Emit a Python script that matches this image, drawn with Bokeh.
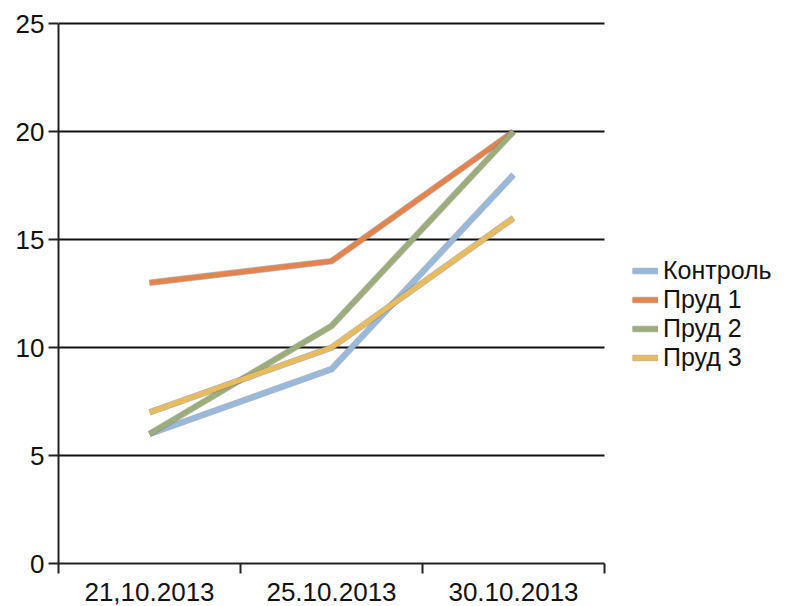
from bokeh.plotting import figure
from bokeh.models import Range1d, FixedTicker, Legend, LegendItem
from bokeh.embed import file_html
from bokeh.resources import INLINE

# Measurement dates and series values
dates = ["21,10.2013", "25.10.2013", "30.10.2013"]
kontrol = [6, 9, 18]
prud1 = [13, 14, 20]
prud2 = [6, 11, 20]
prud3 = [7, 10, 16]
y_ticks = [0, 5, 10, 15, 20, 25]

series_names = ["Контроль", "Пруд 1", "Пруд 2", "Пруд 3"]
series_values = [kontrol, prud1, prud2, prud3]
series_colors = ["#98B9DC", "#E4834C", "#9DAD7A", "#E8BC5C"]

FONT = "Liberation Sans"

# category centres sit at half steps, category boundaries at whole steps
n = len(dates)
xs = [i + 0.5 for i in range(n)]
y_max = y_ticks[-1]

# the frame runs on to the right edge so the legend can sit inside it;
# axis and grid stop at the last category boundary
left, right_pad, data_w = 58, 5, 546
frame_w = 785 - left - right_pad
x_end = n * frame_w / data_w

# a little headroom above the top tick so its grid line is drawn in full
p = figure(width=785, height=606, output_backend="svg", toolbar_location=None,
           x_range=Range1d(0, x_end), y_range=Range1d(0, y_max * 1.004),
           min_border_left=left, min_border_right=right_pad, min_border_top=21,
           min_border_bottom=43)
p.outline_line_color = None
p.background_fill_color = "white"
p.border_fill_color = "white"

# x axis: labels at category centres, tick marks at boundaries
p.xaxis.bounds = (0, n)
p.xaxis.ticker = FixedTicker(ticks=xs, minor_ticks=list(range(n + 1)))
p.xaxis.major_label_overrides = {x: d for x, d in zip(xs, dates)}
p.xaxis.major_tick_out = 0
p.xaxis.major_tick_in = 0
p.xaxis.minor_tick_out = 10
p.xaxis.minor_tick_in = 0
p.xaxis.minor_tick_line_color = "#222222"
p.xaxis.minor_tick_line_width = 2
p.xaxis.axis_line_color = "#222222"
p.xaxis.axis_line_width = 2
p.xaxis.major_label_text_font = FONT
p.xaxis.major_label_text_font_size = "26px"
p.xaxis.major_label_text_color = "#111111"
p.xaxis.major_label_standoff = 9

# y axis
p.yaxis.bounds = (0, y_max)
p.yaxis.ticker = FixedTicker(ticks=y_ticks, minor_ticks=[])
p.yaxis.major_tick_out = 10
p.yaxis.major_tick_in = 0
p.yaxis.major_tick_line_color = "#222222"
p.yaxis.major_tick_line_width = 2
p.yaxis.axis_line_color = "#222222"
p.yaxis.axis_line_width = 2
p.yaxis.major_label_text_font = FONT
p.yaxis.major_label_text_font_size = "26px"
p.yaxis.major_label_text_color = "#111111"
p.yaxis.major_label_standoff = 4

p.xgrid.grid_line_color = None
p.ygrid.grid_line_color = "#111111"
p.ygrid.grid_line_width = 2
p.ygrid.cross_bounds = (0, n)

items = []
for name, vals, color in zip(series_names, series_values, series_colors):
    edge = p.line(xs, vals, line_color="#7a7a7a", line_alpha=0.55, line_width=6.5,
                  line_cap="butt", line_join="miter")
    body = p.line(xs, vals, line_color=color, line_width=5,
                  line_cap="butt", line_join="miter")
    items.append(LegendItem(label=name, renderers=[edge, body]))

# legend to the right of the data area
legend = Legend(items=items, location=(574, 191), orientation="vertical",
                label_text_font=FONT, label_text_font_size="25px",
                label_text_color="#111111", glyph_width=26, glyph_height=29,
                label_height=29, label_standoff=5, spacing=0, padding=0,
                margin=0, border_line_color=None, background_fill_alpha=0)
p.add_layout(legend, "center")

open("out.html", "w").write(file_html(p, INLINE))
